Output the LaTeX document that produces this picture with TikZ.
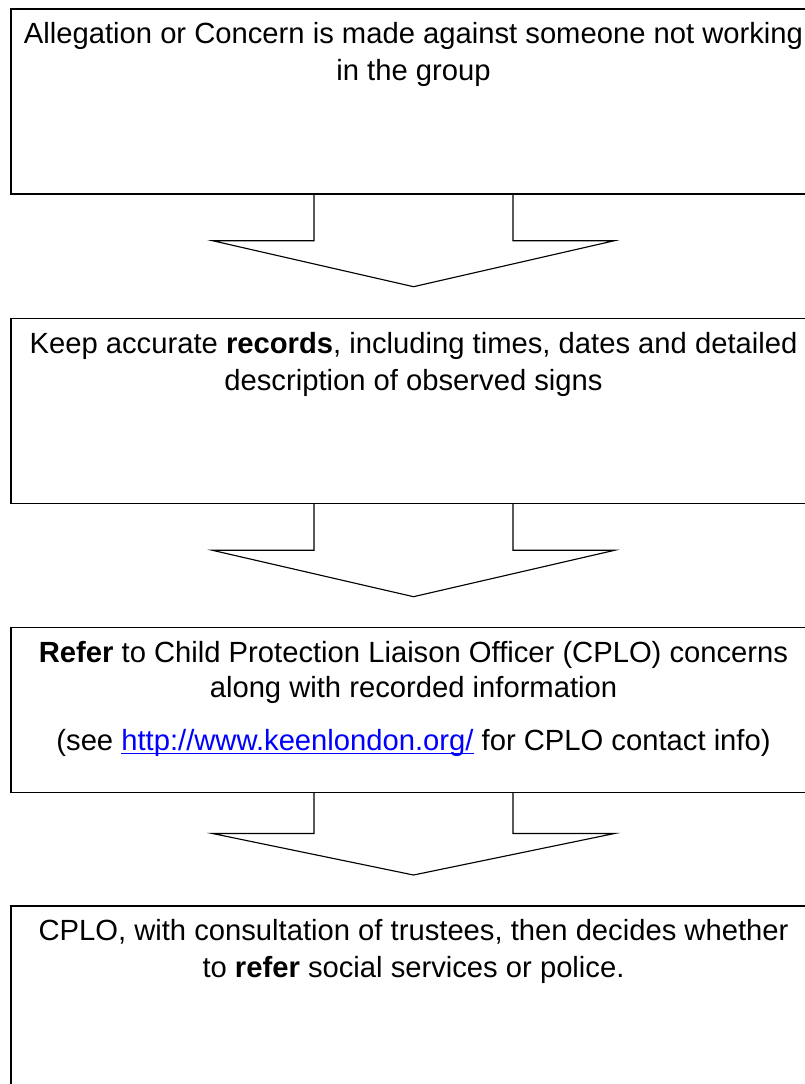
\documentclass[tikz,border=0pt]{standalone}
\usepackage{fontspec}
\setmainfont{Liberation Sans}
\usetikzlibrary{calc}
\definecolor{linkblue}{RGB}{0,0,255}
\newsavebox\linkbox
\newcommand{\ulinktext}[1]{\sbox\linkbox{#1}\rlap{\rule[-2.3pt]{\wd\linkbox}{0.8pt}}\usebox\linkbox}
\begin{document}
\begin{tikzpicture}[x=0.75pt,y=-0.75pt,
  box/.style={draw=black, line width=1.2pt, minimum width=604.2pt, inner sep=0pt, outer sep=0pt, anchor=north},
  txt/.style={font=\fontsize{21.9pt}{27pt}\selectfont, inner sep=0pt, anchor=base},
  blk/.style={draw=black, line width=0.85pt, line join=miter}]
\useasboundingbox (0,0) rectangle (805,1084);
\clip (0,0) rectangle (805,1084);
\fill[white] (0,0) rectangle (805,1084);

% boxes
\node[box, minimum height=138.75pt] (b1) at (413.5,9.3) {};
\node[box, minimum height=138.75pt] (b2) at (413.5,318.3) {};
\node[box, minimum height=123.75pt] (b3) at (413.5,627.3) {};
\node[box, minimum height=150pt] (b4) at (413.5,906) {};

% texts
\node[txt] (t1a) at ($(b1.north)+(0,34.2)$) {Allegation or Concern is made against someone not working};
\node[txt] (t1b) at ($(b1.north)+(0,70.8)$) {in the group};

\node[txt] (t2a) at ($(b2.north)+(0,35.5)$) {Keep accurate \textbf{records}, including times, dates and detailed};
\node[txt] (t2b) at ($(b2.north)+(0,72.2)$) {description of observed signs};

\node[txt] (t3a) at ($(b3.north)+(0,35.6)$) {\textbf{Refer} to Child Protection Liaison Officer (CPLO) concerns};
\node[txt] (t3b) at ($(b3.north)+(0,70.2)$) {along with recorded information};
\node[txt] (t3c) at ($(b3.north)+(0,123.6)$) {(see \textcolor{linkblue}{\ulinktext{http://www.keenlondon.org/}} for CPLO contact info)};

\node[txt] (t4a) at ($(b4.north)+(0,34)$) {CPLO, with consultation of trustees, then decides whether};
\node[txt] (t4b) at ($(b4.north)+(0,71.2)$) {to \textbf{refer} social services or police.};

% block arrows
\coordinate (tip1) at ($(b1.south)+(0,92.4)$);
\draw[blk] ($(b1.south)+(-99.5,0)$) -- ++(0,46.4) -- ++(-101.5,0) -- (tip1)
  -- ($(b1.south)+(201,46.4)$) -- ++(-101.5,0) -- ($(b1.south)+(99.5,0)$);

\coordinate (tip2) at ($(b2.south)+(0,93.4)$);
\draw[blk] ($(b2.south)+(-99.5,0)$) -- ++(0,47) -- ++(-101.5,0) -- (tip2)
  -- ($(b2.south)+(201,47)$) -- ++(-101.5,0) -- ($(b2.south)+(99.5,0)$);

\coordinate (tip3) at ($(b3.south)+(0,82.7)$);
\draw[blk] ($(b3.south)+(-99.5,0)$) -- ++(0,41.2) -- ++(-101.5,0) -- (tip3)
  -- ($(b3.south)+(201,41.2)$) -- ++(-101.5,0) -- ($(b3.south)+(99.5,0)$);
\end{tikzpicture}
\end{document}
